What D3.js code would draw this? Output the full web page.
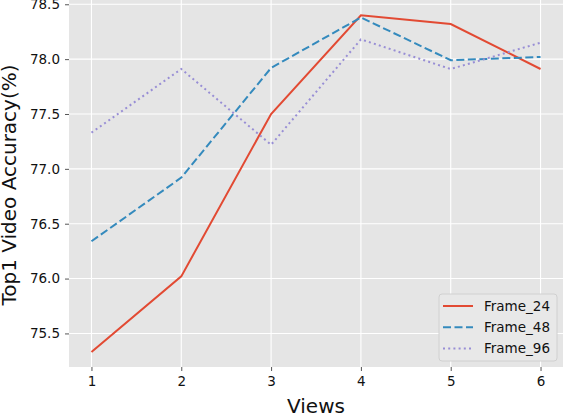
<!DOCTYPE html>
<html>
<head>
<meta charset="utf-8">
<script src="https://cdn.jsdelivr.net/npm/d3@7"></script>
<style>
  body { margin: 0; background: #fff; }
  svg { display: block; font-family: "DejaVu Sans", sans-serif; }
</style>
</head>
<body>
<div id="chart"></div>
<script>
// data
const views = [1, 2, 3, 4, 5, 6];
const frame24 = [75.33, 76.02, 77.50, 78.40, 78.32, 77.91];
const frame48 = [76.34, 76.92, 77.92, 78.38, 77.99, 78.02];
const frame96 = [77.33, 77.91, 77.22, 78.18, 77.91, 78.15];
const seriesNames = ["Frame_24", "Frame_48", "Frame_96"];
const yTicks = [75.5, 76.0, 76.5, 77.0, 77.5, 78.0, 78.5];

const W = 564, H = 414;
const margin = { top: 0, right: 1, bottom: 47, left: 69 };
const width = W - margin.left - margin.right,
    height = H - margin.top - margin.bottom;

const series = [
    { name: seriesNames[0], values: frame24, color: "#E24A33", dash: null },
    { name: seriesNames[1], values: frame48, color: "#348ABD", dash: "8,3.5" },
    { name: seriesNames[2], values: frame96, color: "#988ED5", dash: "2,3.2" }
];

const svg = d3.select("#chart").append("svg")
    .attr("width", W)
    .attr("height", H);

const g = svg.append("g")
    .attr("transform", `translate(${margin.left},${margin.top})`);

const x = d3.scaleLinear().domain([0.75, 6.25]).range([0, width]);
const y = d3.scaleLinear().domain([75.194, 78.539]).range([height, 0]);

// background
g.append("rect")
    .attr("width", width)
    .attr("height", height)
    .attr("fill", "#E5E5E5");

// grid
g.selectAll(".vgrid").data(views).enter().append("line")
    .attr("x1", d => x(d)).attr("x2", d => x(d))
    .attr("y1", 0).attr("y2", height)
    .attr("stroke", "#fff").attr("stroke-width", 1.1);
g.selectAll(".hgrid").data(yTicks).enter().append("line")
    .attr("y1", d => y(d)).attr("y2", d => y(d))
    .attr("x1", 0).attr("x2", width)
    .attr("stroke", "#fff").attr("stroke-width", 1.1);

// axes
const xAxis = g.append("g")
    .attr("transform", `translate(0,${height})`)
    .call(d3.axisBottom(x).tickValues(views).tickFormat(d3.format("d")).tickSize(4).tickPadding(5));
const yAxis = g.append("g")
    .call(d3.axisLeft(y).tickValues(yTicks).tickFormat(d3.format(".1f")).tickSize(4).tickPadding(5));

[xAxis, yAxis].forEach(a => {
    a.select(".domain").remove();
    a.selectAll("line").attr("stroke", "#555");
    a.selectAll("text")
        .attr("fill", "#111")
        .style("font-size", "13.5px")
        .style("font-family", "DejaVu Sans");
});

// lines
const line = d3.line()
    .x((d, i) => x(views[i]))
    .y(d => y(d));

series.forEach(s => {
    g.append("path")
        .datum(s.values)
        .attr("d", line)
        .attr("fill", "none")
        .attr("stroke", s.color)
        .attr("stroke-width", 2)
        .attr("stroke-dasharray", s.dash);
});

// axis labels
svg.append("text")
    .attr("x", margin.left + width / 2)
    .attr("y", 412.5)
    .attr("text-anchor", "middle")
    .attr("fill", "#111")
    .style("font-size", "20px")
    .text("Views");

svg.append("text")
    .attr("transform", `translate(16,185) rotate(-90)`)
    .attr("text-anchor", "middle")
    .attr("fill", "#111")
    .style("font-size", "20px")
    .text("Top1 Video Accuracy(%)");

// legend
const legend = svg.append("g").attr("transform", "translate(439,294)");
legend.append("rect")
    .attr("width", 118).attr("height", 67)
    .attr("rx", 3)
    .attr("fill", "#E8E8E8")
    .attr("stroke", "#d0d0d0");

series.forEach((s, i) => {
    const row = legend.append("g").attr("transform", `translate(0,${12 + i * 21.3})`);
    row.append("line")
        .attr("x1", 4).attr("x2", 34)
        .attr("stroke", s.color)
        .attr("stroke-width", 2)
        .attr("stroke-dasharray", s.dash);
    row.append("text")
        .attr("x", 45)
        .attr("dy", "0.35em")
        .attr("fill", "#111")
        .style("font-size", "13.5px")
        .text(s.name);
});
</script>
</body>
</html>
